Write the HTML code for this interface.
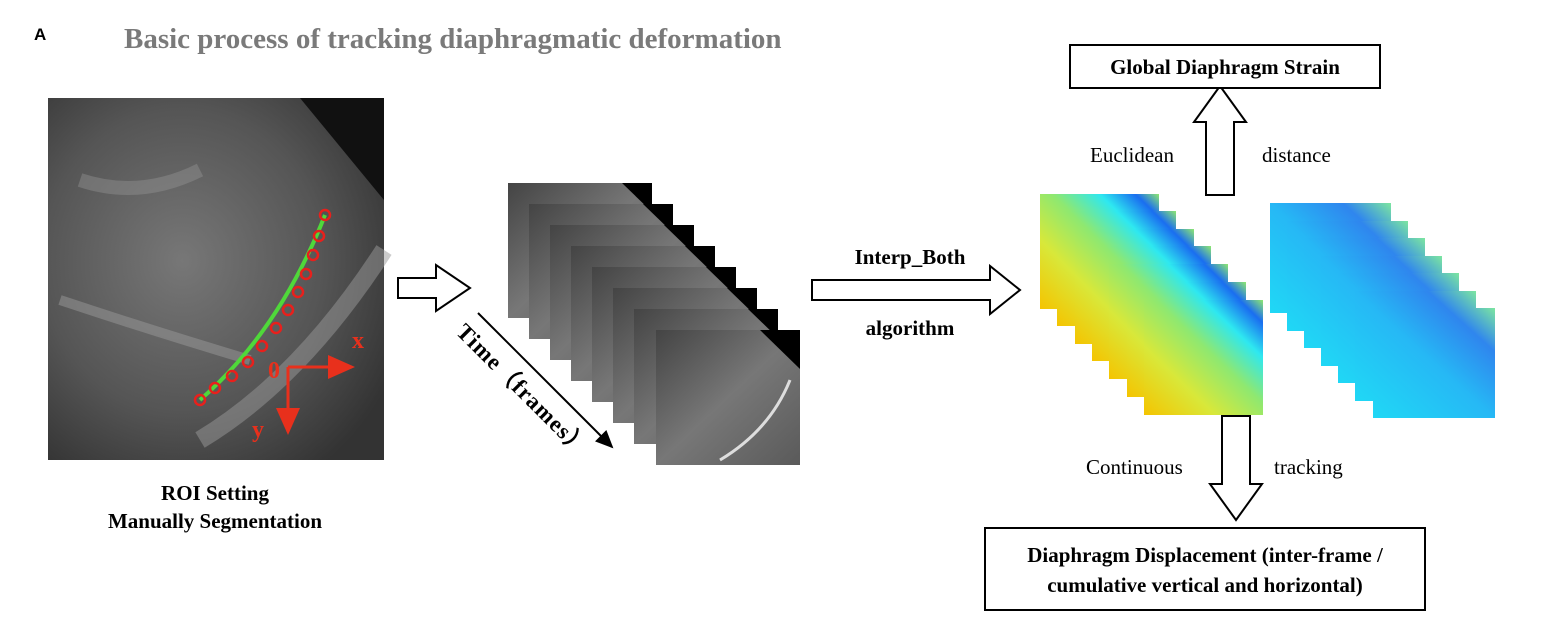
<!DOCTYPE html>
<html><head><meta charset="utf-8"><style>
html,body{margin:0;padding:0;background:#fff;}
svg{display:block;}
</style></head><body>
<svg width="1544" height="620" viewBox="0 0 1544 620" xmlns="http://www.w3.org/2000/svg">
<defs>
<radialGradient id="us" cx="0.4" cy="0.45" r="0.7">
<stop offset="0" stop-color="#777"/><stop offset="0.6" stop-color="#555"/><stop offset="1" stop-color="#333"/>
</radialGradient>
<linearGradient id="fr" x1="0" y1="0" x2="1" y2="1">
<stop offset="0" stop-color="#444"/><stop offset="0.5" stop-color="#777"/><stop offset="1" stop-color="#5a5a5a"/>
</linearGradient>
<linearGradient id="hm1" x1="0" y1="1" x2="1" y2="0">
<stop offset="0" stop-color="#f5c400"/><stop offset="0.3" stop-color="#d8e83a"/><stop offset="0.55" stop-color="#8fe870"/><stop offset="0.75" stop-color="#2ee8f0"/><stop offset="0.9" stop-color="#1a6ef0"/><stop offset="1" stop-color="#8fe870"/>
</linearGradient>
<linearGradient id="hm2" x1="0" y1="1" x2="1" y2="0">
<stop offset="0" stop-color="#20d8f5"/><stop offset="0.5" stop-color="#26b8f5"/><stop offset="0.8" stop-color="#2f86ee"/><stop offset="1" stop-color="#7de6a0"/>
</linearGradient>
<marker id="ah" markerWidth="10" markerHeight="10" refX="8" refY="5" orient="auto"><path d="M0,1 L9,5 L0,9 Z" fill="#000"/></marker>
<marker id="rh" markerWidth="10" markerHeight="10" refX="8" refY="5" orient="auto"><path d="M0,1 L9,5 L0,9 Z" fill="#e8301c"/></marker>
</defs>

<text x="34" y="40" font-family="Liberation Sans, sans-serif" font-weight="bold" font-size="17">A</text>
<text x="124" y="48" font-family="Liberation Serif, serif" font-weight="bold" font-size="29" fill="#7a7a7a">Basic process of tracking diaphragmatic deformation</text>

<!-- left ultrasound -->
<rect x="48" y="98" width="336" height="362" fill="url(#us)"/>
<path d="M300,98 L384,98 L384,200 Z" fill="#111"/>
<path d="M60,300 Q150,330 250,360" stroke="#999" stroke-width="10" fill="none" opacity="0.5"/>
<path d="M80,180 Q140,200 200,170" stroke="#999" stroke-width="14" fill="none" opacity="0.4"/>
<path d="M200,440 Q300,380 384,250" stroke="#999" stroke-width="18" fill="none" opacity="0.5"/>
<path d="M200,400 Q280,330 325,215" stroke="#4fd83a" stroke-width="4" fill="none"/>
<g fill="none" stroke="#e8201c" stroke-width="2.5">
<circle cx="200" cy="400" r="5"/><circle cx="215" cy="388" r="5"/><circle cx="232" cy="376" r="5"/><circle cx="248" cy="362" r="5"/><circle cx="262" cy="346" r="5"/><circle cx="276" cy="328" r="5"/><circle cx="288" cy="310" r="5"/><circle cx="298" cy="292" r="5"/><circle cx="306" cy="274" r="5"/><circle cx="313" cy="255" r="5"/><circle cx="319" cy="236" r="5"/><circle cx="325" cy="215" r="5"/>
</g>
<line x1="288" y1="367" x2="352" y2="367" stroke="#e8301c" stroke-width="3" marker-end="url(#rh)"/>
<line x1="288" y1="367" x2="288" y2="432" stroke="#e8301c" stroke-width="3" marker-end="url(#rh)"/>
<g font-family="Liberation Serif, serif" font-weight="bold" font-size="24" fill="#e8301c">
<text x="268" y="378">0</text><text x="352" y="348">x</text><text x="252" y="437">y</text></g>
<g font-family="Liberation Serif, serif" font-weight="bold" font-size="21" text-anchor="middle">
<text x="215" y="500">ROI Setting</text><text x="215" y="528">Manually Segmentation</text></g>

<path d="M398,278 L436,278 L436,265 L470,288 L436,311 L436,298 L398,298 Z" fill="#fff" stroke="#000" stroke-width="2"/>

<g>
<rect x="508" y="183" width="144" height="135" fill="url(#fr)"/><path d="M622,183 L652,183 L652,212 Z" fill="#000"/>
<rect x="529" y="204" width="144" height="135" fill="url(#fr)"/><path d="M643,204 L673,204 L673,233 Z" fill="#000"/>
<rect x="550" y="225" width="144" height="135" fill="url(#fr)"/><path d="M664,225 L694,225 L694,254 Z" fill="#000"/>
<rect x="571" y="246" width="144" height="135" fill="url(#fr)"/><path d="M685,246 L715,246 L715,275 Z" fill="#000"/>
<rect x="592" y="267" width="144" height="135" fill="url(#fr)"/><path d="M706,267 L736,267 L736,296 Z" fill="#000"/>
<rect x="613" y="288" width="144" height="135" fill="url(#fr)"/><path d="M727,288 L757,288 L757,317 Z" fill="#000"/>
<rect x="634" y="309" width="144" height="135" fill="url(#fr)"/><path d="M748,309 L778,309 L778,338 Z" fill="#000"/>
<rect x="656" y="330" width="144" height="135" fill="url(#fr)"/><path d="M760,330 L800,330 L800,369 Z" fill="#000"/>
<path d="M720,460 Q770,430 790,380" stroke="#ddd" stroke-width="3" fill="none"/>
</g>
<line x1="478" y1="313" x2="612" y2="447" stroke="#000" stroke-width="2" marker-end="url(#ah)"/>
<text transform="translate(455,333) rotate(45)" font-family="Liberation Serif, serif" font-weight="bold" font-size="23" letter-spacing="1">Time（frames）</text>

<path d="M812,280 L990,280 L990,266 L1020,290 L990,314 L990,300 L812,300 Z" fill="#fff" stroke="#000" stroke-width="2"/>
<g font-family="Liberation Serif, serif" font-weight="bold" font-size="21" text-anchor="middle">
<text x="910" y="264">Interp_Both</text><text x="910" y="335">algorithm</text></g>

<g>
<rect x="1040" y="194" width="119" height="115" fill="url(#hm1)"/>
<rect x="1057" y="211" width="119" height="115" fill="url(#hm1)"/>
<rect x="1075" y="229" width="119" height="115" fill="url(#hm1)"/>
<rect x="1092" y="246" width="119" height="115" fill="url(#hm1)"/>
<rect x="1109" y="264" width="119" height="115" fill="url(#hm1)"/>
<rect x="1127" y="282" width="119" height="115" fill="url(#hm1)"/>
<rect x="1144" y="300" width="119" height="115" fill="url(#hm1)"/>
</g>
<g>
<rect x="1270" y="203" width="121" height="110" fill="url(#hm2)"/>
<rect x="1287" y="221" width="121" height="110" fill="url(#hm2)"/>
<rect x="1304" y="238" width="121" height="110" fill="url(#hm2)"/>
<rect x="1321" y="256" width="121" height="110" fill="url(#hm2)"/>
<rect x="1338" y="273" width="121" height="110" fill="url(#hm2)"/>
<rect x="1355" y="291" width="121" height="110" fill="url(#hm2)"/>
<rect x="1373" y="308" width="122" height="110" fill="url(#hm2)"/>
</g>

<path d="M1206,195 L1206,122 L1194,122 L1220,86 L1246,122 L1234,122 L1234,195 Z" fill="#fff" stroke="#000" stroke-width="2"/>
<g font-family="Liberation Serif, serif" font-size="21">
<text x="1090" y="162">Euclidean</text><text x="1262" y="162">distance</text></g>
<rect x="1070" y="45" width="310" height="43" fill="#fff" stroke="#000" stroke-width="2"/>
<text x="1225" y="74" text-anchor="middle" font-family="Liberation Serif, serif" font-weight="bold" font-size="21">Global Diaphragm Strain</text>

<path d="M1222,416 L1250,416 L1250,484 L1262,484 L1236,520 L1210,484 L1222,484 Z" fill="#fff" stroke="#000" stroke-width="2"/>
<g font-family="Liberation Serif, serif" font-size="21">
<text x="1086" y="474">Continuous</text><text x="1274" y="474">tracking</text></g>
<rect x="985" y="528" width="440" height="82" fill="#fff" stroke="#000" stroke-width="2"/>
<g font-family="Liberation Serif, serif" font-weight="bold" font-size="21" text-anchor="middle">
<text x="1205" y="562">Diaphragm Displacement (inter-frame /</text><text x="1205" y="592">cumulative vertical and horizontal)</text></g>
</svg>
</body></html>
